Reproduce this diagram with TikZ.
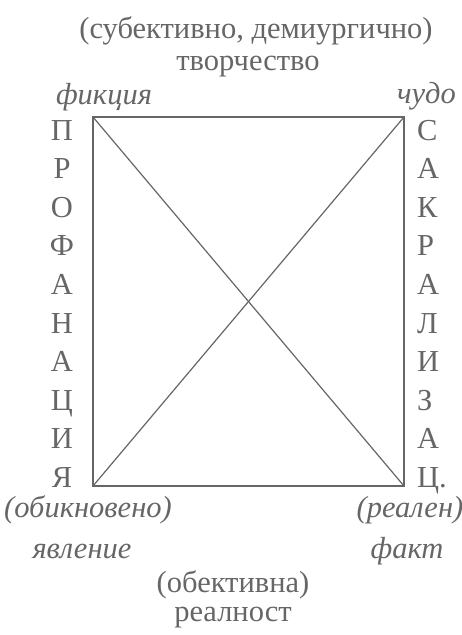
\documentclass[tikz,border=0pt]{standalone}
\usepackage{fontspec}
\setmainfont{Liberation Serif}
\definecolor{ink}{gray}{0.4}
\begin{document}
\begin{tikzpicture}[x=1pt,y=-1pt,
  txt/.style={text=ink,font=\fontsize{30.5}{31}\selectfont,inner sep=0pt,anchor=base},
  itxt/.style={txt,font=\fontsize{30.5}{31}\selectfont\itshape},
  frame/.style={draw=ink,line width=1.2pt}]
\useasboundingbox (0,0) rectangle (462,635);
\coordinate (tl) at (93,117);
\coordinate (tr) at (404,117);
\coordinate (bl) at (93,486);
\coordinate (br) at (404,486);
\draw[frame] (tl) -- (tr) -- (br) -- (bl) -- cycle;
\draw[frame] (tl) -- (br);
\draw[frame] (tr) -- (bl);
\node[txt] (top1) at (256,38) {(субективно, демиургично)};
\node[txt] (top2) at (248,70) {творчество};
\node[itxt] (fic) at (104,104) {фикция};
\node[itxt,anchor=base east] (chudo) at (456,103) {чудо};
\foreach \l [count=\i] in {П,Р,О,Ф,А,Н,А,Ц,И,Я}
  \node[txt] (L\i) at (62,{140+(\i-1)*38.6}) {\l};
\foreach \l [count=\i] in {С,А,К,Р,А,Л,И,З,А,Ц.}
  \node[txt,anchor=base west] (R\i) at (417,{140+(\i-1)*38.6}) {\l};
\node[itxt] (ob1) at (88,517) {(обикновено)};
\node[itxt] (ob2) at (82,558) {явление};
\node[itxt] (re1) at (410,517) {(реален)};
\node[itxt] (re2) at (407,558) {факт};
\node[txt] (bot1) at (233,592) {(обективна)};
\node[txt] (bot2) at (233,621) {реалност};
\end{tikzpicture}
\end{document}
